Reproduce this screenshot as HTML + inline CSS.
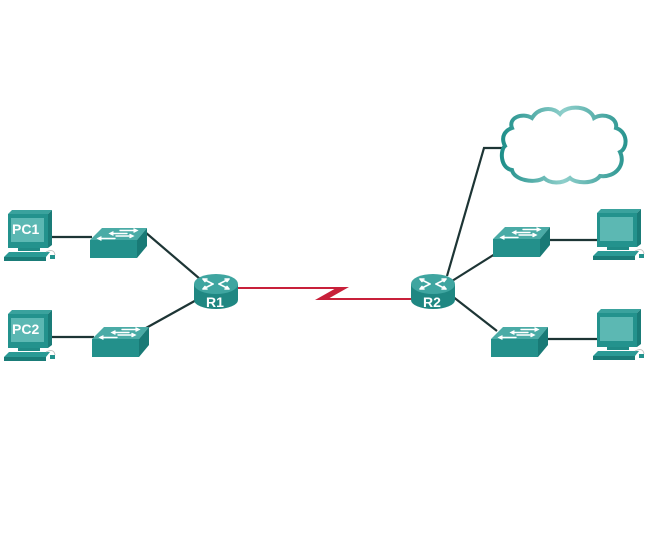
<!DOCTYPE html>
<html><head><meta charset="utf-8"><style>
html,body{margin:0;padding:0;background:#fff;}
svg{display:block;}
text{font-family:"Liberation Sans",Arial,sans-serif;font-weight:bold;fill:#fff;}
</style></head><body>
<svg width="653" height="556" viewBox="0 0 653 556" xmlns="http://www.w3.org/2000/svg">
<defs>
<linearGradient id="cl" x1="0" y1="0" x2="1" y2="0">
<stop offset="0" stop-color="#1f8f8a"/><stop offset="0.5" stop-color="#8fcfcb"/><stop offset="1" stop-color="#2a9590"/>
</linearGradient>
<g id="sw">
<polygon points="0,14 47,14 57,2 12,2" fill="#4aaba6"/>
<rect x="0" y="14" width="47" height="18" fill="#23908b"/>
<polygon points="47,14 57,2 57,20 47,32" fill="#197a76"/>
<g stroke="#fff" stroke-width="1.4" fill="none" stroke-linecap="round">
<path d="M30,4.5 h17 M44,3 l3,1.5 l-3,1.5"/>
<path d="M20,7.5 h17 M23,6 l-3,1.5 l3,1.5"/>
<path d="M26,10 h17 M40,8.5 l3,1.5 l-3,1.5"/>
<path d="M8,12.5 h17 M11,11 l-3,1.5 l3,1.5"/>
</g>
</g>
<g id="pc">
<polygon points="2,2 42,2 46,-2 6,-2" fill="#3aa29d"/>
<rect x="2" y="2" width="40" height="34" fill="#23928d"/>
<polygon points="42,2 46,-2 46,33 42,36" fill="#1a7c78"/>
<rect x="5" y="6" width="33" height="24" fill="#5cb8b3"/>
<rect x="12" y="36" width="22" height="3" fill="#1f8a85"/>
<polygon points="-2,45 40,45 44,40 3,40" fill="#2a9a95"/>
<rect x="-2" y="45" width="42" height="4" fill="#1a7c78"/>
<rect x="44" y="43" width="5" height="4" fill="#23928d"/>
<path d="M40,40 q8,-4 9,3" stroke="#bbb" stroke-width="0.8" fill="none"/>
</g>
<g id="rt">
<rect x="-22" y="0" width="44" height="16" fill="#1f8782"/>
<ellipse cx="0" cy="16" rx="22" ry="9" fill="#1f8782"/>
<ellipse cx="0" cy="0" rx="22" ry="10" fill="#3fa5a0"/>
<g stroke="#fff" stroke-width="1.6" fill="none" stroke-linecap="round">
<path d="M-13,-5 L-3,0 M-13,-5 l4,0 M-13,-5 l2,2.5"/>
<path d="M13,-5 L3,0 M13,-5 l-4,0 M13,-5 l-2,2.5"/>
<path d="M-3,0 L-13,5 M-13,5 l4,0 M-13,5 l2,-2.5"/>
<path d="M3,0 L13,5 M13,5 l-4,0 M13,5 l-2,-2.5"/>
</g>
</g>
</defs>

<!-- connectors -->
<g stroke="#1d3535" stroke-width="2.2" fill="none">
<line x1="50" y1="237" x2="92" y2="237"/>
<line x1="50" y1="337" x2="94" y2="337"/>
<line x1="145" y1="232" x2="200" y2="279"/>
<line x1="146" y1="328" x2="200" y2="298"/>
<polyline points="447,276 484,148 505,148"/>
<line x1="452" y1="281" x2="495" y2="254"/>
<line x1="452" y1="296" x2="497" y2="331"/>
<line x1="548" y1="240" x2="598" y2="240"/>
<line x1="546" y1="339" x2="598" y2="339"/>
</g>
<path d="M237,288 H345 M320,299 H413" stroke="#c8203a" stroke-width="2" fill="none"/>
<polygon points="338,287 349,287 326,300 315,300" fill="#c8203a"/>

<!-- cloud -->
<path d="M512,128 C508,118 522,112 532,118 C538,108 552,106 560,114 C568,104 590,106 594,118 C604,112 618,118 616,128 C628,132 628,148 620,152 C626,164 616,178 600,176 C594,184 576,184 570,178 C562,184 550,184 544,178 C534,184 514,180 512,170 C500,168 500,150 505,146 C500,136 506,130 512,128 Z" fill="#fff" stroke="url(#cl)" stroke-width="4"/>

<!-- switches -->
<use href="#sw" x="90" y="226"/>
<use href="#sw" x="92" y="325"/>
<use href="#sw" x="493" y="225"/>
<use href="#sw" x="491" y="325"/>

<!-- PCs -->
<use href="#pc" x="6" y="212"/>
<text x="12" y="234" font-size="14">PC1</text>
<use href="#pc" x="6" y="312"/>
<text x="12" y="334" font-size="14">PC2</text>
<use href="#pc" x="595" y="211"/>
<use href="#pc" x="595" y="311"/>

<!-- routers -->
<use href="#rt" x="216" y="284"/>
<text x="206" y="307" font-size="14">R1</text>
<use href="#rt" x="433" y="284"/>
<text x="423" y="307" font-size="14">R2</text>
</svg>
</body></html>
